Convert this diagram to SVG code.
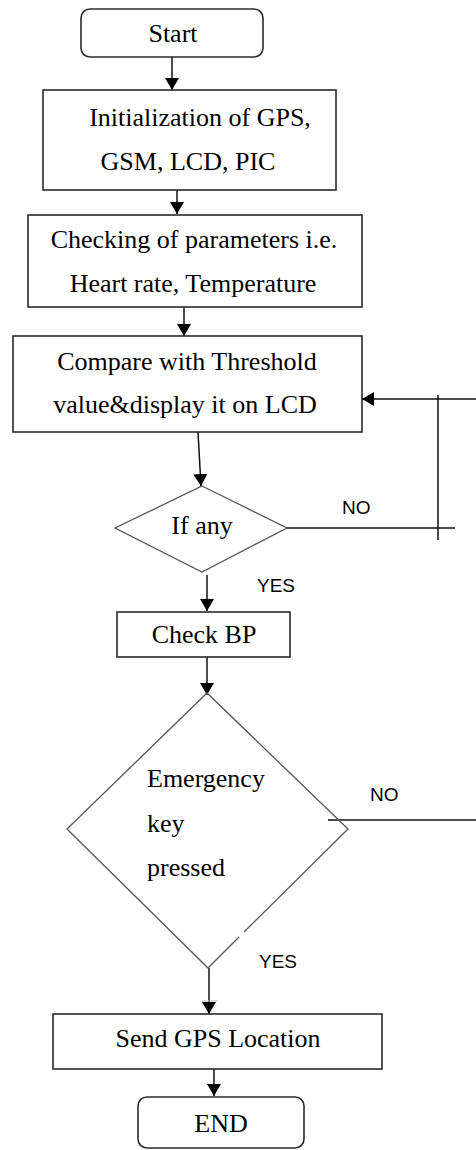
<svg xmlns="http://www.w3.org/2000/svg" width="476" height="1150" viewBox="0 0 476 1150">
<style>
.box{fill:#fff;stroke:#2a2a2a;stroke-width:1.6}
.dia{fill:none;stroke:#555;stroke-width:1.3}
.t{font-family:"Liberation Serif","Times New Roman",serif;font-size:26px;fill:#000;text-anchor:middle}
.tl{font-family:"Liberation Serif","Times New Roman",serif;font-size:26px;fill:#000}
.lab{font-family:"Liberation Sans",Arial,sans-serif;font-size:19px;fill:#000}
.c{fill:none;stroke:#111;stroke-width:1.5}
</style>
<defs>
<marker id="ah" viewBox="0 0 12 14" refX="12" refY="7" markerWidth="12" markerHeight="14" markerUnits="userSpaceOnUse" orient="auto">
<path d="M0,0 L12,7 L0,14 Z" fill="#000"/>
</marker>
</defs>
<rect width="476" height="1150" fill="#fff"/>
<g id="connectors">
<line class="c" x1="172" y1="57" x2="172" y2="90" marker-end="url(#ah)"/>
<line class="c" x1="177" y1="183" x2="177" y2="214" marker-end="url(#ah)"/>
<line class="c" x1="184" y1="303" x2="184" y2="336" marker-end="url(#ah)"/>
<line class="c" x1="198" y1="432" x2="201" y2="486" marker-end="url(#ah)"/>
<line class="c" x1="207" y1="575" x2="207" y2="611" marker-end="url(#ah)"/>
<line class="c" x1="207" y1="657" x2="207" y2="695" marker-end="url(#ah)"/>
<line class="c" x1="209" y1="968" x2="209" y2="1014" marker-end="url(#ah)"/>
<line x1="202" y1="1001" x2="218" y2="1001" stroke="#bbb" stroke-width="1"/>
<line class="c" x1="214" y1="1060" x2="214" y2="1096" marker-end="url(#ah)"/>
<line class="c" x1="287" y1="528" x2="455" y2="528"/>
<line class="c" x1="438" y1="395" x2="438" y2="540"/>
<line class="c" x1="476" y1="399" x2="362" y2="399" marker-end="url(#ah)"/>
<line class="c" x1="328" y1="820" x2="476" y2="820"/>
<text class="lab" x="342" y="514">NO</text>
<text class="lab" x="257" y="592">YES</text>
<text class="lab" x="370" y="801">NO</text>
<text class="lab" x="259" y="968">YES</text>
</g>
<g id="start">
<rect class="box" x="81" y="9" width="182" height="48" rx="9"/>
<text class="t" x="173" y="42">Start</text>
</g>
<g id="init">
<rect class="box" x="43" y="90" width="293" height="100"/>
<text class="t" x="200" y="126">Initialization of GPS,</text>
<text class="t" x="188" y="170">GSM, LCD, PIC</text>
</g>
<g id="check">
<rect class="box" x="28" y="215" width="334" height="92"/>
<text class="t" x="194" y="248">Checking of parameters i.e.</text>
<text class="t" x="193" y="292">Heart rate, Temperature</text>
</g>
<g id="compare">
<rect class="box" x="13" y="336" width="349" height="96"/>
<text class="t" x="187" y="370">Compare with Threshold</text>
<text class="t" x="185" y="413">value&amp;display it on LCD</text>
</g>
<g id="ifany">
<polygon class="dia" points="202,486 287,528 202,572 115,528"/>
<text class="t" x="202" y="534">If any</text>
</g>
<g id="checkbp">
<rect class="box" x="117" y="612" width="173" height="45"/>
<text class="t" x="204" y="643">Check BP</text>
</g>
<g id="emergency">
<path class="dia" d="M239,937 L208,968 L67,829 L207,693 L348,829 L244,932"/>
<text class="tl" x="147" y="787">Emergency</text>
<text class="tl" x="147" y="832">key</text>
<text class="tl" x="147" y="876">pressed</text>
</g>
<g id="sendgps">
<rect class="box" x="53" y="1014" width="329" height="55"/>
<text class="t" x="218" y="1047">Send GPS Location</text>
</g>
<g id="end">
<rect class="box" x="138" y="1097" width="166" height="51" rx="9"/>
<text class="t" x="221" y="1132">END</text>
</g>
</svg>
